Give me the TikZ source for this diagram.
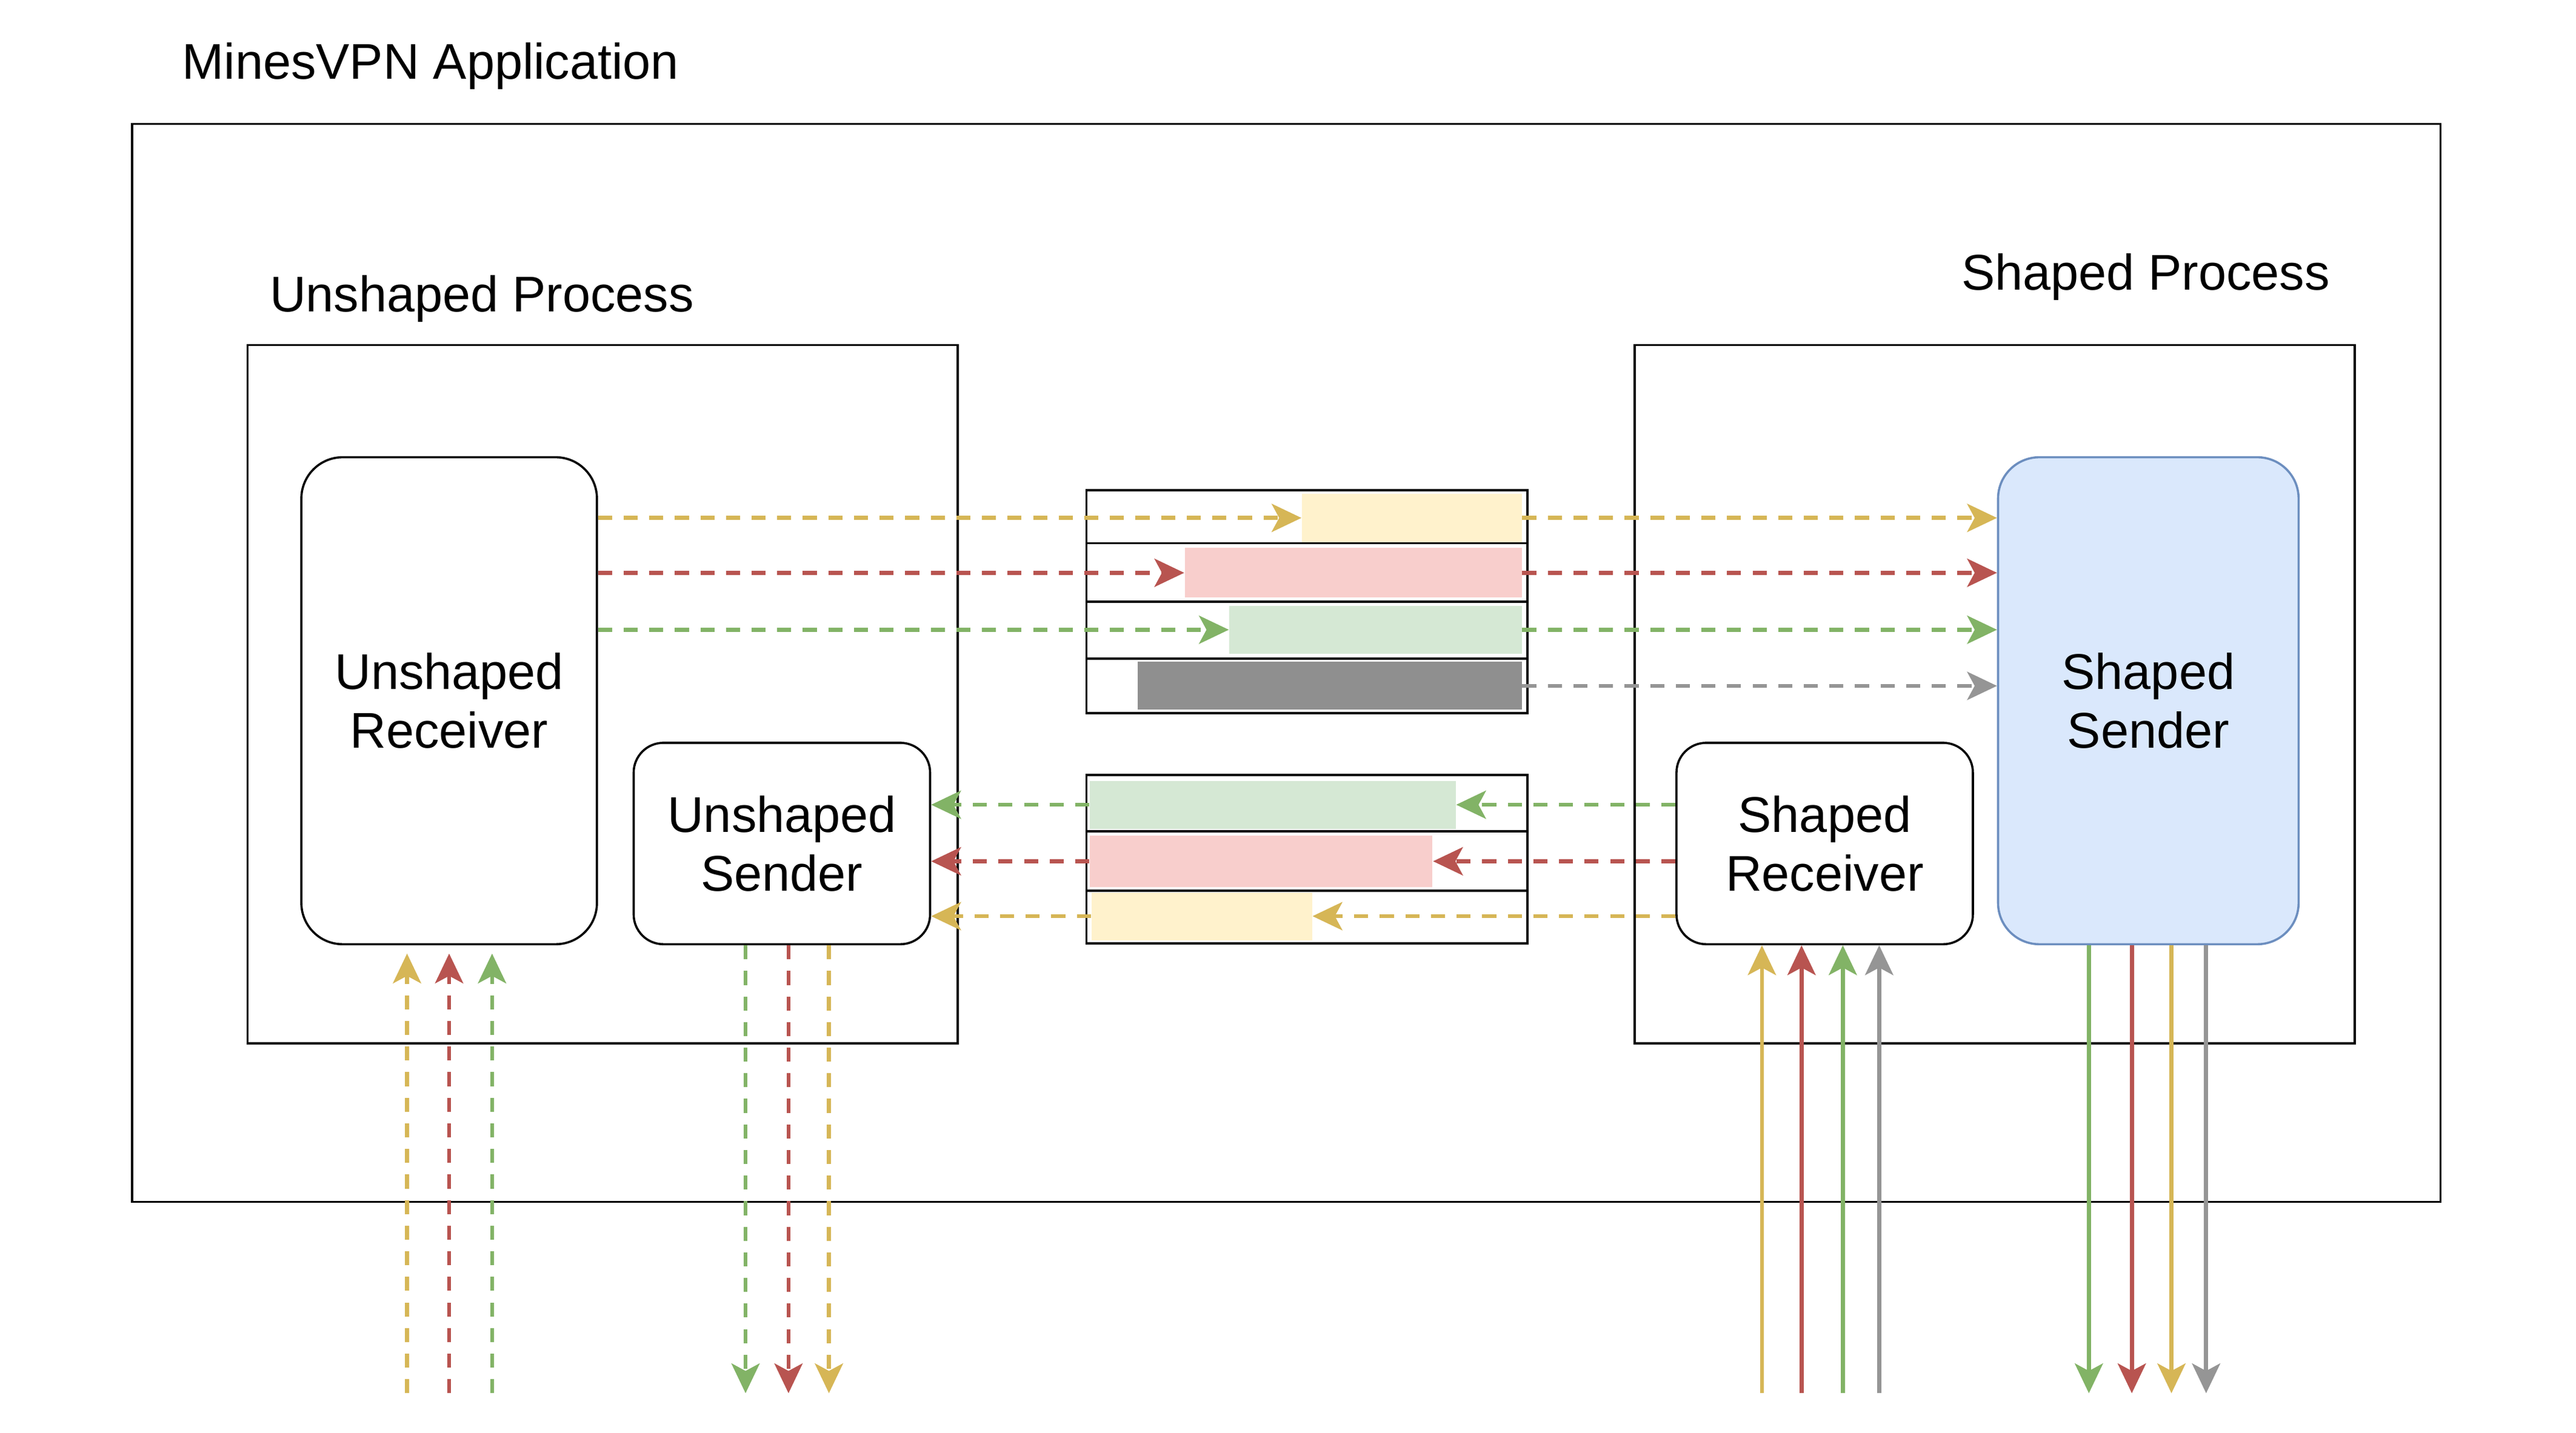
\documentclass[tikz,border=0pt]{standalone}
\usepackage{fontspec}
\setmainfont{Liberation Sans}
\usetikzlibrary{arrows.meta}

\definecolor{lineYel}{HTML}{D6B656}
\definecolor{fillYel}{HTML}{FFF2CC}
\definecolor{lineRed}{HTML}{B85450}
\definecolor{fillRed}{HTML}{F8CECC}
\definecolor{lineGrn}{HTML}{82B366}
\definecolor{fillGrn}{HTML}{D5E8D4}
\definecolor{lineGry}{HTML}{959595}
\definecolor{fillGry}{HTML}{8F8F8F}
\definecolor{lineBlue}{HTML}{6C8EBF}
\definecolor{fillBlue}{HTML}{DAE8FC}

\begin{document}
\begin{tikzpicture}[font=\fontsize{17.3}{20.2}\selectfont]
		\useasboundingbox (0,0) rectangle (31.2,-17.36);
		\begin{scope}
            [
                styleLabel/.style={anchor=base west, inner sep=0pt},
				styleFrame/.style={draw, line width=0.75pt, inner sep=0pt},
				styleBig/.style={
					draw, line width=0.75pt, rounded corners=0.5cm,
					minimum width=3.58cm, minimum height=5.9cm, align=center
					},
				styleSmall/.style={
					draw, line width=0.75pt, rounded corners=0.36cm,
					minimum width=3.59cm, minimum height=2.44cm, align=center
					},
				styleSlot/.style={fill=#1, inner sep=0pt},
            ]
			\node(title)[styleLabel] at (2.2,-0.96) {MinesVPN Application};
			\node(app)[styleFrame, minimum width=27.96cm, minimum height=13.06cm] at (15.58,-8.03) {};

			\node(uproc)[styleFrame, minimum width=8.6cm, minimum height=8.46cm] at (7.3,-8.41) {};
			\node(uprocLbl)[styleLabel] at (3.26,-3.78) {Unshaped Process};
			\node(sproc)[styleFrame, minimum width=8.72cm, minimum height=8.46cm] at (24.16,-8.41) {};
			\node(sprocLbl)[styleLabel] at (23.75,-3.51) {Shaped Process};

			\node(urecv)[styleBig] at (5.44,-8.49) {Unshaped\\Receiver};
			\node(usend)[styleSmall] at (9.47,-10.22) {Unshaped\\Sender};
			\node(srecv)[styleSmall] at (22.1,-10.22) {Shaped\\Receiver};
			\node(ssend)[styleBig, fill=fillBlue, draw=lineBlue, minimum width=3.64cm] at (26.02,-8.49) {Shaped\\Sender};

			\node(qUp)[styleFrame, minimum width=5.34cm, minimum height=2.7cm] at (15.83,-7.29) {};
			\node(qUpY)[styleSlot=fillYel, minimum width=2.66cm, minimum height=0.59cm] at (17.1,-6.275) {};
			\node(qUpR)[styleSlot=fillRed, minimum width=4.08cm, minimum height=0.6cm] at (16.39,-6.94) {};
			\node(qUpG)[styleSlot=fillGrn, minimum width=3.54cm, minimum height=0.58cm] at (16.66,-7.63) {};
			\node(qUpK)[styleSlot=fillGry, minimum width=4.65cm, minimum height=0.58cm] at (16.105,-8.31) {};
			\foreach \y in {-6.58,-7.29,-7.98}
				\draw[line width=0.75pt] (13.16,\y) -- (18.5,\y);

			\node(qLo)[styleFrame, minimum width=5.34cm, minimum height=2.04cm] at (15.83,-10.41) {};
			\node(qLoG)[styleSlot=fillGrn, minimum width=4.43cm, minimum height=0.58cm] at (15.415,-9.75) {};
			\node(qLoR)[styleSlot=fillRed, minimum width=4.15cm, minimum height=0.63cm] at (15.275,-10.435) {};
			\node(qLoY)[styleSlot=fillYel, minimum width=2.67cm, minimum height=0.58cm] at (14.555,-11.1) {};
			\foreach \y in {-10.07,-10.79}
				\draw[line width=0.75pt] (13.16,\y) -- (18.5,\y);
		\end{scope}
		\begin{scope}
            [
				->, >={Stealth[length=0.36cm, width=0.34cm, inset=0.09cm]},
				styleWire/.style={draw=#1, line width=1.4pt},
				styleDash/.style={dash pattern=on 0.17cm off 0.14cm},
			]
            \path 
			(urecv.east |- qUpY.west) edge[styleWire=lineYel, styleDash]   (qUpY.west)
			(urecv.east |- qUpR.west) edge[styleWire=lineRed, styleDash]   (qUpR.west)
			(urecv.east |- qUpG.west) edge[styleWire=lineGrn, styleDash]   (qUpG.west)

			(qUpY.east) edge[styleWire=lineYel, styleDash]   (ssend.west |- qUpY.east)
			(qUpR.east) edge[styleWire=lineRed, styleDash]   (ssend.west |- qUpR.east)
			(qUpG.east) edge[styleWire=lineGrn, styleDash]   (ssend.west |- qUpG.east)
			(qUpK.east) edge[styleWire=lineGry, styleDash]   (ssend.west |- qUpK.east)

			(srecv.west |- qLoG.east) edge[styleWire=lineGrn, styleDash]   (qLoG.east)
			(srecv.west |- qLoR.east) edge[styleWire=lineRed, styleDash]   (qLoR.east)
			(srecv.west |- qLoY.east) edge[styleWire=lineYel, styleDash]   (qLoY.east)

			(qLoG.west) edge[styleWire=lineGrn, styleDash]   (usend.east |- qLoG.west)
			(qLoR.west) edge[styleWire=lineRed, styleDash]   (usend.east |- qLoR.west)
			(qLoY.west) edge[styleWire=lineYel, styleDash]   (usend.east |- qLoY.west);

			\foreach \x/\c [count=\i] in {4.93/lineYel,5.44/lineRed,5.96/lineGrn}{
				\coordinate (urIn\i) at (\x,-16.88);
				\path (urIn\i) edge[styleWire=\c, styleDash, shorten >=0.1cm] (urIn\i |- urecv.south);
			}
			\foreach \x/\c [count=\i] in {9.03/lineGrn,9.55/lineRed,10.04/lineYel}{
				\coordinate (usOut\i) at (\x,-16.88);
				\path (usend.south -| usOut\i) edge[styleWire=\c, styleDash] (usOut\i);
			}
			\foreach \x/\c [count=\i] in {21.34/lineYel,21.82/lineRed,22.32/lineGrn,22.76/lineGry}{
				\coordinate (srIn\i) at (\x,-16.88);
				\path (srIn\i) edge[styleWire=\c] (srIn\i |- srecv.south);
			}
			\foreach \x/\c [count=\i] in {25.3/lineGrn,25.82/lineRed,26.3/lineYel,26.72/lineGry}{
				\coordinate (ssOut\i) at (\x,-16.88);
				\path (ssend.south -| ssOut\i) edge[styleWire=\c] (ssOut\i);
			}
		\end{scope}
    \end{tikzpicture}
\end{document}
